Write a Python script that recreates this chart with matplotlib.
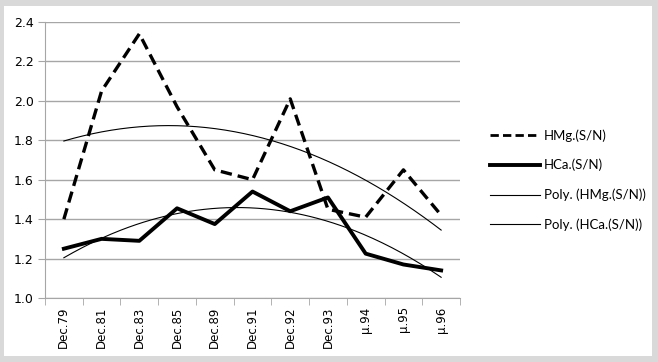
import numpy as np
import matplotlib.pyplot as plt
import matplotlib.patches as mpatches
from matplotlib.lines import Line2D

# data
categories = ["Dec.79", "Dec.81", "Dec.83", "Dec.85", "Dec.89", "Dec.91",
              "Dec.92", "Dec.93", "\u00b5.94", "\u00b5.95", "\u00b5.96"]
hmg = [1.40, 2.05, 2.34, 1.97, 1.65, 1.60, 2.01, 1.45, 1.41, 1.65, 1.42]
hca = [1.25, 1.30, 1.29, 1.455, 1.375, 1.54, 1.44, 1.51, 1.225, 1.17, 1.14]
y_ticks = [1.0, 1.2, 1.4, 1.6, 1.8, 2.0, 2.2, 2.4]

GRID = "#a6a6a6"

fig = plt.figure(figsize=(6.58, 3.62), dpi=100)
fig.patch.set_facecolor("#d9d9d9")
fig.patches.append(mpatches.Rectangle((4 / 658, 6 / 362), 648 / 658, 350 / 362,
                                      transform=fig.transFigure,
                                      facecolor="white", edgecolor="none", zorder=-10))

ax = fig.add_axes([45 / 658, 1 - 298 / 362, 415 / 658, 276 / 362])
ax.set_facecolor("none")

x = np.arange(len(categories))

# 2nd order polynomial trendlines (as Excel "Poly.")
xs = np.linspace(0, len(categories) - 1, 200)
p_hmg = np.polyval(np.polyfit(x, hmg, 2), xs)
p_hca = np.polyval(np.polyfit(x, hca, 2), xs)

ax.plot(x, hmg, color="black", linewidth=2.4, linestyle=(0, (3.4, 1.8)), zorder=3)
ax.plot(x, hca, color="black", linewidth=2.8, zorder=3)
ax.plot(xs, p_hmg, color="black", linewidth=0.8, zorder=2)
ax.plot(xs, p_hca, color="black", linewidth=0.8, zorder=2)

ax.set_xlim(-0.5, len(categories) - 0.5)
ax.set_ylim(1.0, 2.4)
ax.set_yticks(y_ticks)
ax.set_yticklabels([f"{v:.1f}" for v in y_ticks], fontsize=9, family="DejaVu Sans")
ax.yaxis.grid(True, color=GRID, linewidth=1)
ax.set_axisbelow(True)

ax.set_xticks(x)
ax.set_xticklabels(categories, rotation=90, fontsize=8.5, family="DejaVu Sans")
ax.set_xticks(np.arange(-0.5, len(categories)), minor=True)
ax.tick_params(axis="x", which="major", length=0, pad=6)
ax.tick_params(axis="x", which="minor", length=5, color=GRID)
ax.tick_params(axis="y", length=5, color=GRID, pad=3)

for side in ["top", "right"]:
    ax.spines[side].set_visible(False)
ax.spines["left"].set_color(GRID)
ax.spines["bottom"].set_color(GRID)

handles = [
    Line2D([0], [0], color="black", linewidth=2.0, linestyle=(0, (3, 1.5))),
    Line2D([0], [0], color="black", linewidth=2.8),
    Line2D([0], [0], color="black", linewidth=0.8),
    Line2D([0], [0], color="black", linewidth=0.8),
]
labels = ["HMg.(S/N)", "HCa.(S/N)", "Poly. (HMg.(S/N))", "Poly. (HCa.(S/N))"]
fig.legend(handles, labels, loc="center left", bbox_to_anchor=(478 / 658, 1 - 180 / 362),
           frameon=False, handlelength=3.8, handletextpad=0.3,
           labelspacing=1.3, prop={"family": "Lato", "size": 9.5})

fig.savefig("out.png", dpi=100)
